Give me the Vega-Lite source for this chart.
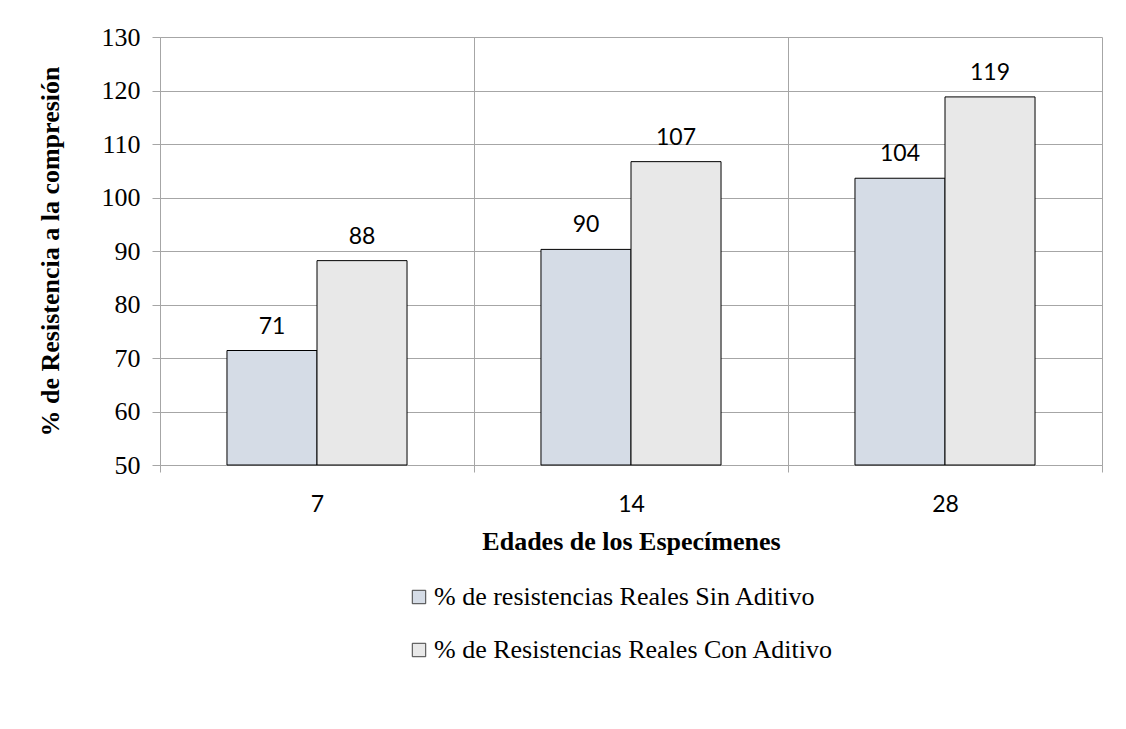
{
  "$schema": "https://vega.github.io/schema/vega-lite/v6.json",
  "autosize": {"type": "none"},
  "width": 942,
  "height": 428,
  "padding": {"left": 160, "top": 37, "right": 24, "bottom": 264},
  "background": "white",
  "config": {
    "view": {"stroke": null},
    "axis": {"gridColor": "#A6A6A6", "domainColor": "#A6A6A6", "tickColor": "#A6A6A6", "labelColor": "#000000", "titleColor": "#000000"}
  },
  "data": {
    "values": [
      {"edad": "7", "serie": "% de resistencias Reales Sin Aditivo", "valor": 71.4},
      {"edad": "7", "serie": "% de Resistencias Reales Con Aditivo", "valor": 88.2},
      {"edad": "14", "serie": "% de resistencias Reales Sin Aditivo", "valor": 90.3},
      {"edad": "14", "serie": "% de Resistencias Reales Con Aditivo", "valor": 106.7},
      {"edad": "28", "serie": "% de resistencias Reales Sin Aditivo", "valor": 103.6},
      {"edad": "28", "serie": "% de Resistencias Reales Con Aditivo", "valor": 118.8}
    ]
  },
  "encoding": {
    "x": {
      "field": "edad", "type": "ordinal", "sort": ["7", "14", "28"],
      "scale": {"paddingInner": 0, "paddingOuter": 0},
      "axis": {
        "title": "Edades de los Especímenes", "titleFont": "Liberation Serif", "titleFontSize": 26, "titleFontWeight": "bold", "titlePadding": 12,
        "labelAngle": 0, "labelFont": "Lato", "labelFontSize": 23, "labelPadding": 21,
        "tickBand": "extent", "grid": true, "ticks": true, "tickSize": 7
      }
    },
    "xOffset": {
      "field": "serie", "type": "nominal",
      "sort": ["% de resistencias Reales Sin Aditivo", "% de Resistencias Reales Con Aditivo"],
      "scale": {"paddingOuter": 0.744, "paddingInner": 0}
    },
    "y": {
      "field": "valor", "type": "quantitative",
      "scale": {"domain": [50, 130], "zero": false, "nice": false},
      "axis": {
        "title": "% de Resistencia a la compresión", "titleFont": "Liberation Serif", "titleFontSize": 26, "titleFontWeight": "bold", "titlePadding": 38,
        "values": [50, 60, 70, 80, 90, 100, 110, 120, 130],
        "labelFont": "Liberation Serif", "labelFontSize": 26, "labelPadding": 12, "tickSize": 8, "grid": true
      }
    }
  },
  "layer": [
    {
      "mark": {"type": "bar", "stroke": "#000000", "strokeWidth": 1},
      "encoding": {
        "y2": {"datum": 50},
        "color": {
          "field": "serie", "type": "nominal",
          "sort": ["% de resistencias Reales Sin Aditivo", "% de Resistencias Reales Con Aditivo"],
          "scale": {"range": ["#D5DCE6", "#E8E8E8"]},
          "legend": {
            "title": null, "orient": "none", "legendX": 246, "legendY": 547, "direction": "vertical",
            "padding": 0, "symbolType": "square", "symbolSize": 180, "symbolStrokeColor": "#404040", "symbolStrokeWidth": 1,
            "labelFont": "Liberation Serif", "labelFontSize": 26, "labelColor": "#000000", "labelOffset": 2, "rowPadding": 27, "labelLimit": 600
          }
        }
      }
    },
    {
      "mark": {"type": "text", "font": "Lato", "fontSize": 23, "baseline": "alphabetic", "dy": -17, "color": "#000000"},
      "encoding": {"text": {"field": "valor", "type": "quantitative", "format": ".0f"}}
    }
  ]
}
